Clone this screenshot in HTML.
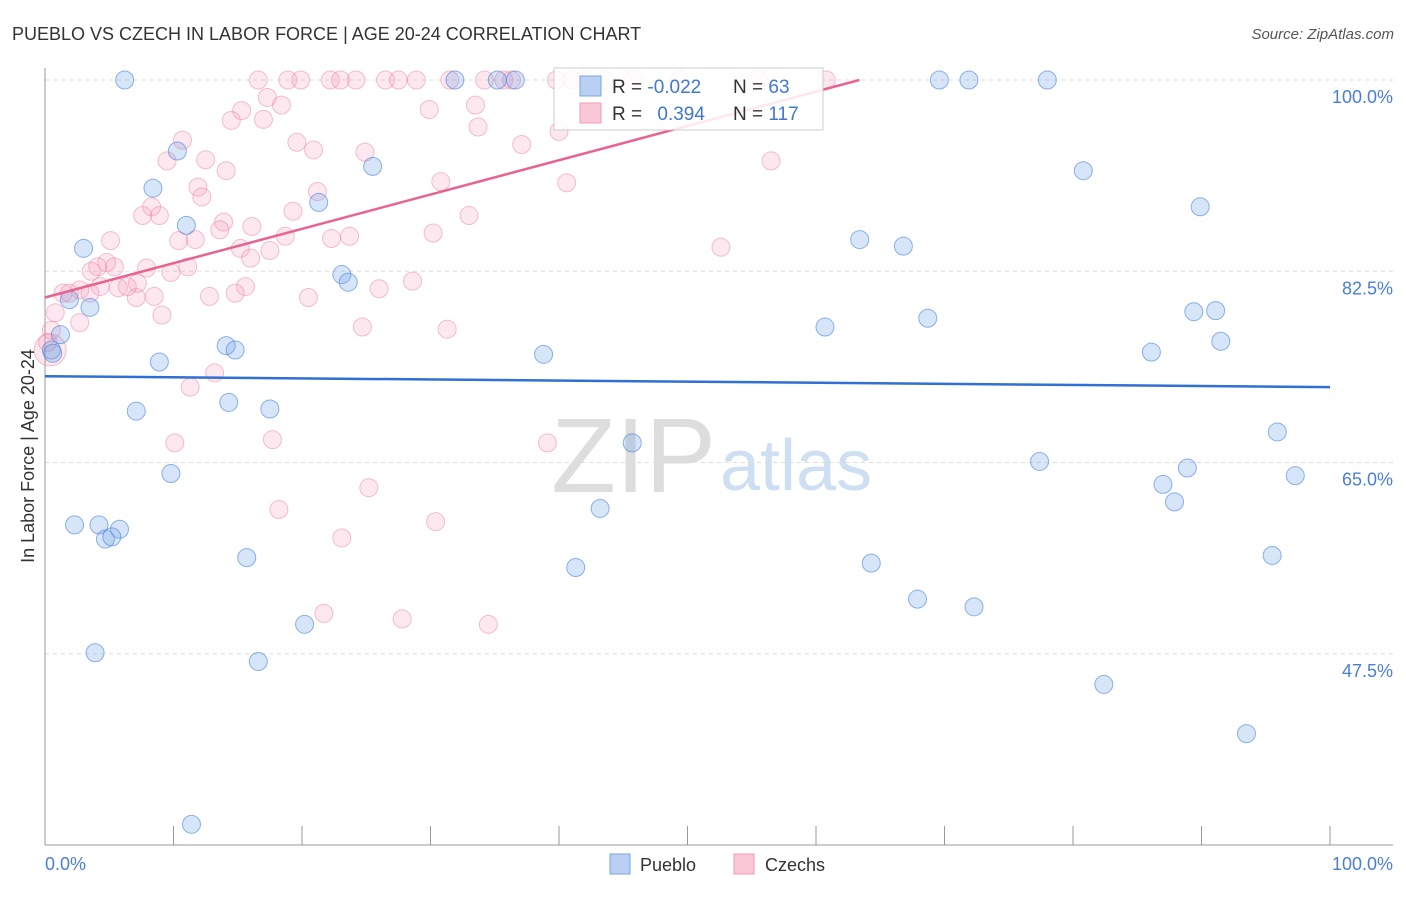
<!DOCTYPE html>
<html><head><meta charset="utf-8"><style>
body{margin:0;background:#fff;font-family:"Liberation Sans",sans-serif;}
svg text{font-family:"Liberation Sans",sans-serif;}
</style></head><body>
<svg id="chart" width="1406" height="892" xmlns="http://www.w3.org/2000/svg">
<text x="12" y="40" font-size="18" fill="#333">PUEBLO VS CZECH IN LABOR FORCE | AGE 20-24 CORRELATION CHART</text>
<text x="1394" y="39" font-size="15" fill="#555" text-anchor="end" font-style="italic">Source: ZipAtlas.com</text>
<text x="716" y="492" font-size="106" fill="#ddd" text-anchor="end" font-family="Liberation Serif">ZIP</text>
<text x="720" y="490" font-size="72" fill="#cfdff3">atlas</text>
<g id="grid"></g><g id="axes"></g><g id="pts"></g><g id="trends"></g>
<text transform="translate(34,456) rotate(-90)" font-size="18" fill="#333" text-anchor="middle">In Labor Force | Age 20-24</text>
<text x="45" y="870" font-size="18" fill="#4a7fd6">0.0%</text>
<text x="1393" y="870" font-size="18" fill="#4a7fd6" text-anchor="end">100.0%</text>
<g>
<rect x="610" y="854" width="20" height="20" fill="#b9d0f3" stroke="#7aa5e6"/>
<text x="640" y="871" font-size="18" fill="#333">Pueblo</text>
<rect x="734" y="854" width="20" height="20" fill="#fac7d6" stroke="#f09cb6"/>
<text x="765" y="871" font-size="18" fill="#333">Czechs</text>
</g>
<g>
<rect x="554" y="68" width="269" height="62" fill="rgba(255,255,255,0.85)" stroke="#ccc"/>
<rect x="580" y="76" width="21" height="20" fill="#b9d0f3" stroke="#7aa5e6"/>
<rect x="580" y="103" width="21" height="20" fill="#fac7d6" stroke="#f09cb6"/>
<text x="612" y="93" font-size="19" fill="#333">R = <tspan fill="#3f78d4">-0.022</tspan></text>
<text x="733" y="93" font-size="19" fill="#333">N = <tspan fill="#3f78d4"> 63</tspan></text>
<text x="612" y="120" font-size="19" fill="#333">R = <tspan fill="#3f78d4" dx="10">0.394</tspan></text>
<text x="733" y="120" font-size="19" fill="#333">N = <tspan fill="#3f78d4">117</tspan></text>
</g>
</svg>
<script>
const yTicks=[100,82.5,65,47.5];
const yTickLabels=["100.0%","82.5%","65.0%","47.5%"];
const puebloX=[6.2,31.9,35.2,36.6,69.6,71.9,78.0,10.3,25.5,8.4,21.3,11.0,3.0,63.4,66.8,80.8,89.9,23.1,23.6,1.9,3.5,60.7,68.7,89.4,91.1,91.5,1.2,0.5,14.1,14.8,38.8,86.1,8.9,7.1,14.3,17.5,45.7,95.9,77.4,88.9,87.0,97.3,9.8,87.9,2.3,4.2,5.8,4.7,5.2,43.2,15.7,41.3,64.3,95.5,67.9,72.3,20.2,3.9,16.6,82.4,93.5,11.4,0.6];
const puebloY=[100,100,100,100,100,100,100,93.5,92.1,90.1,88.8,86.7,84.6,85.4,84.8,91.7,88.4,82.2,81.5,79.9,79.2,77.4,78.2,78.8,78.9,76.1,76.7,75.3,75.7,75.3,74.9,75.1,74.2,69.7,70.5,69.9,66.8,67.8,65.1,64.5,63.0,63.8,64.0,61.4,59.3,59.3,58.9,58.0,58.2,60.8,56.3,55.4,55.8,56.5,52.5,51.8,50.2,47.6,46.8,44.7,40.2,31.9,75.0];
const czechX=[16.6,18.9,19.9,22.2,23.0,24.2,26.5,27.5,28.9,31.5,34.2,35.7,36.3,39.8,41.0,42.0,43.5,45.8,49.4,55.5,60.8,17.3,18.4,15.3,14.5,17.0,10.7,19.6,20.9,24.9,29.9,30.8,12.5,9.5,14.1,11.9,12.2,21.2,19.3,8.3,7.6,8.9,13.9,13.6,16.1,30.2,5.1,10.4,11.7,18.7,22.3,23.7,15.2,17.5,16.0,4.8,4.1,3.6,5.4,7.9,11.1,9.8,28.6,15.6,14.8,12.8,20.5,26.0,8.5,7.1,5.7,6.4,7.2,4.3,2.7,1.4,1.9,3.5,9.1,2.7,0.8,24.7,31.3,13.2,0.4,33.5,33.7,37.1,40.0,40.6,33.0,52.6,56.5,39.1,17.7,10.1,11.3,25.2,30.4,18.2,23.1,21.7,27.8,34.5,0.5,0.2];
const czechY=[100,100,100,100,100,100,100,100,100,100,100,100,100,100,100,100,100,100,100,100,100,98.4,97.7,97.2,96.3,96.4,94.5,94.3,93.6,93.4,97.3,90.7,92.7,92.6,91.7,90.2,89.3,89.8,88.0,88.4,87.6,87.6,87.0,86.3,86.6,86.0,85.3,85.3,85.4,85.7,85.5,85.7,84.6,84.4,83.7,83.3,82.9,82.5,82.9,82.8,82.9,82.4,81.6,81.1,80.5,80.2,80.1,80.9,80.2,80.1,81.0,81.1,81.4,81.1,80.8,80.5,80.5,80.5,78.5,77.8,78.7,77.4,77.2,73.2,75.3,97.7,95.7,94.1,95.3,90.6,87.6,84.7,92.6,66.8,67.1,66.8,71.9,62.7,59.6,60.7,58.1,51.2,50.7,50.2,77.1,76.0];
const puebloTrend=[72.9,71.9];
const czechTrend=[80.1,0.314];
const NS="http://www.w3.org/2000/svg";
const xs=v=>45+v*12.85;
const ys=v=>80+(100-v)*10.93;
function mk(tag,attrs,parent){const e=document.createElementNS(NS,tag);for(const k in attrs)e.setAttribute(k,attrs[k]);document.getElementById(parent).appendChild(e);return e;}
yTicks.forEach((t,i)=>{
 const l=mk('line',{x1:45,x2:1393,y1:ys(t),y2:ys(t),stroke:'#ddd','stroke-dasharray':'4,4'},'grid');
 
 
 const tx=mk('text',{x:1393,y:ys(t)+23,'font-size':18,fill:'#4a7fd6','text-anchor':'end'},'grid');
 tx.textContent=yTickLabels[i];
 
 
});
let a=mk('line',{x1:45,x2:45,y1:68,y2:845,stroke:'#999'},'axes');


a=mk('line',{x1:45,x2:1393,y1:845,y2:845,stroke:'#999'},'axes');


for(let i=0;i<=10;i++){
 const t=mk('line',{x1:xs(i*10),x2:xs(i*10),y1:826,y2:845,stroke:'#999'},'axes');
 
 
}
czechX.forEach((x,i)=>{
 const c=mk('circle',{cx:xs(x),cy:ys(czechY[i]),r:i==84?16:9,fill:'rgba(245,150,180,0.22)',stroke:'rgba(236,130,165,0.5)'},'pts');
 
 
});
puebloX.forEach((x,i)=>{
 const c=mk('circle',{cx:xs(x),cy:ys(puebloY[i]),r:9,fill:'rgba(110,160,230,0.28)',stroke:'rgba(70,130,220,0.6)'},'pts');
 
 
});
let tl=mk('line',{x1:xs(0),x2:xs(100),y1:ys(puebloTrend[0]),y2:ys(puebloTrend[1]),stroke:'#2f6fd6','stroke-width':2.5},'trends');


const xEnd=Math.min(100,(100-czechTrend[0])/czechTrend[1]);
tl=mk('line',{x1:xs(0),x2:xs(xEnd),y1:ys(czechTrend[0]),y2:ys(czechTrend[0]+czechTrend[1]*xEnd),stroke:'#e8638f','stroke-width':2.5},'trends');


</script>
</body></html>
